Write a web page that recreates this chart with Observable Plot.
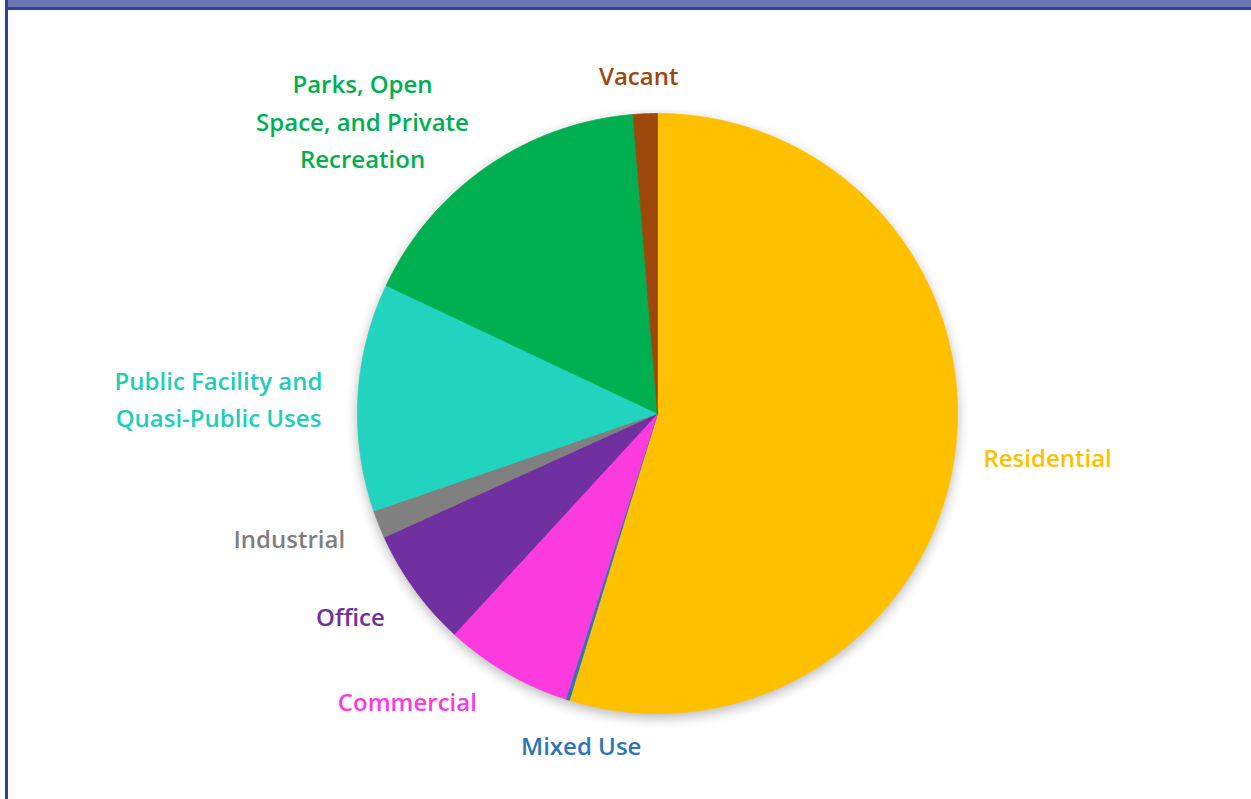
<!DOCTYPE html>
<html>
<head>
<meta charset="utf-8">
<script src="https://cdn.jsdelivr.net/npm/d3@7"></script>
<script src="https://cdn.jsdelivr.net/npm/@observablehq/plot@0.6"></script>
<style>
  html, body { margin: 0; padding: 0; background: #fff; overflow: hidden; }
  #page { position: relative; width: 1251px; height: 799px; background: #fff; }
  #topband { position: absolute; left: 8px; top: 0; right: 0; height: 7px; background: #6677b1; }
  #topline { position: absolute; left: 5px; top: 7px; right: 0; height: 3px; background: #2b4594; }
  #leftline { position: absolute; left: 5px; top: 0; width: 3px; bottom: 0; background: #2b4594; }
  #chart { position: absolute; left: 0; top: 0; }
</style>
</head>
<body>
<div id="page">
  <div id="chart"></div>
  <div id="topband"></div>
  <div id="topline"></div>
  <div id="leftline"></div>
</div>
<script>
// ---- data ----
const categories = ["Residential", "Mixed Use", "Commercial", "Office", "Industrial",
  "Public Facility and\nQuasi-Public Uses", "Parks, Open\nSpace, and Private\nRecreation", "Vacant"];
const shares = [54.8, 0.2, 6.9, 6.4, 1.5, 12.3, 16.7, 1.3];
const sliceColors = ["#ffc000", "#2e75b6", "#fb3bde", "#7030a0", "#808080", "#22d3c0", "#00b050", "#9e480e"];
const textColors = ["#ffc000", "#2e75b6", "#fb3bde", "#7030a0", "#7f7f7f", "#22cdb9", "#00b050", "#9e480e"];

// ---- layout (label placement: angle in degrees clockwise from top, distance in radii) ----
const labelAngle = [96.6, 192.9, 220.8, 236.4, 251.0, 271.7, 314.6, 356.8];
const labelDist = [1.309, 1.139, 1.276, 1.229, 1.298, 1.464, 1.381, 1.122];
const W = 1251, H = 799, CX = 657, CY = 413, R = 300;

const pie = d3.pie().sort(null).value(d => d.value);
const table = categories.map((c, i) => ({name: c, value: shares[i]}));
const arcs = pie(table);

const pts = [];
arcs.forEach(a => {
  pts.push({name: a.data.name, x: 0, y: 0});
  const n = Math.max(2, Math.ceil((a.endAngle - a.startAngle) / (Math.PI / 720)));
  for (let k = 0; k <= n; k++) {
    const t = a.startAngle + (a.endAngle - a.startAngle) * k / n;
    pts.push({name: a.data.name, x: Math.sin(t), y: Math.cos(t)});
  }
  pts.push({name: a.data.name, x: 0, y: 0});
});

const labels = categories.map((c, i) => {
  const t = labelAngle[i] * Math.PI / 180;
  return {name: c, x: Math.sin(t) * labelDist[i], y: Math.cos(t) * labelDist[i], color: textColors[i]};
});

const chart = Plot.plot({
  width: W, height: H, margin: 0,
  x: {domain: [-CX / R, (W - CX) / R], axis: null},
  y: {domain: [-(H - CY) / R, CY / R], axis: null},
  color: {domain: categories, range: sliceColors},
  style: {background: "transparent"},
  marks: [
    Plot.line(pts, {x: "x", y: "y", z: "name", fill: "name", stroke: "name", strokeWidth: 0.8, curve: "linear"}),
    Plot.text(labels, {x: "x", y: "y", text: "name", fill: d => d.color, textAnchor: "middle", lineAnchor: "middle",
      fontSize: 24, fontWeight: 600, fontFamily: "Open Sans", lineHeight: 1.56, dy: -4})
  ]
});
const lineG = chart.querySelector('g[aria-label="line"]');
if (lineG) lineG.style.filter = "drop-shadow(0px 4px 6px rgba(0,0,0,0.28))";
document.getElementById("chart").appendChild(chart);
</script>
</body>
</html>
